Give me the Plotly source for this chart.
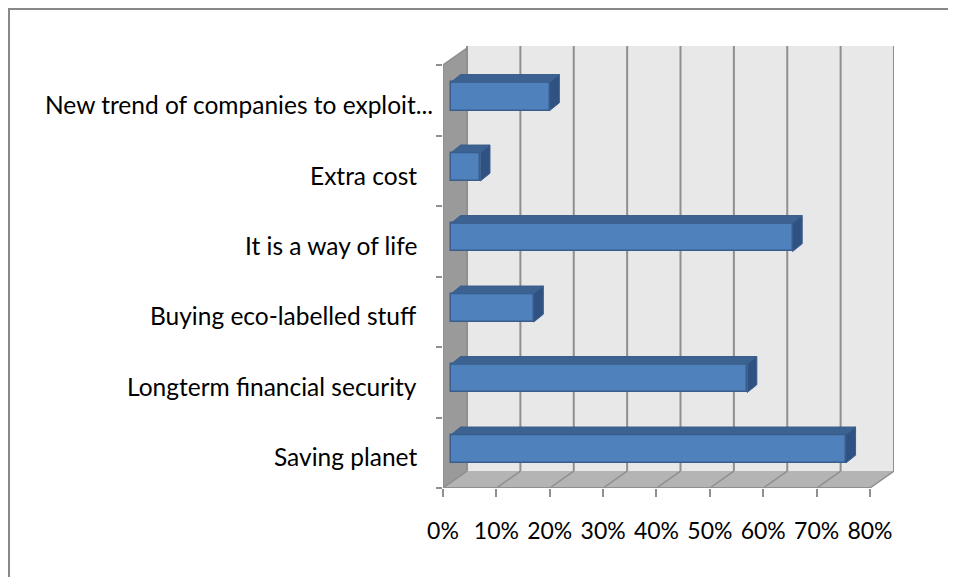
import plotly.graph_objects as go

# ---- data ----
categories = ["Saving planet", "Longterm financial security", "Buying eco-labelled stuff",
              "It is a way of life", "Extra cost", "New trend of companies to exploit..."]
values = [74, 55.5, 15.5, 64, 5.5, 18.5]
tick_vals = [0, 10, 20, 30, 40, 50, 60, 70, 80]
tick_text = ["0%", "10%", "20%", "30%", "40%", "50%", "60%", "70%", "80%"]

# ---- 3D styling constants (in axis units) ----
XMAX = 80
WALL_DX, WALL_DY = 4.5, 0.24      # depth of the chart box
BAR_START = 1.5                   # front face of bars sits slightly behind the front plane
BAR_DX, BAR_DY = 1.8, 0.11        # depth of each bar
BAR_HALF = 0.2
BAR_SHIFT = 0.055
YTOP = 6.27

FRONT = "#4F81BD"
TOP = "#3C6292"
SIDE = "#2F5282"
EDGE = "#3A5E8C"
GRID = "#8F8F8F"

fig = go.Figure()
shapes = []

# back wall
shapes.append(dict(type="rect", xref="x", yref="y", x0=WALL_DX, x1=XMAX + WALL_DX,
                   y0=WALL_DY, y1=YTOP, fillcolor="#E8E8E8", line=dict(width=0), layer="below"))
# floor
shapes.append(dict(type="path", xref="x", yref="y",
                   path=f"M 0 0 L {XMAX} 0 L {XMAX+WALL_DX} {WALL_DY} L {WALL_DX} {WALL_DY} Z",
                   fillcolor="#B4B4B4", line=dict(width=0), layer="below"))
# left wall
shapes.append(dict(type="path", xref="x", yref="y",
                   path=f"M 0 0 L 0 {len(categories)} L {WALL_DX} {len(categories)+WALL_DY} L {WALL_DX} {WALL_DY} Z",
                   fillcolor="#9A9A9A", line=dict(width=0), layer="below"))
# grid lines on back wall + floor diagonals
for v in tick_vals:
    shapes.append(dict(type="line", xref="x", yref="y", x0=v + WALL_DX, x1=v + WALL_DX,
                       y0=WALL_DY, y1=YTOP, line=dict(color=GRID, width=2), layer="below"))
    shapes.append(dict(type="line", xref="x", yref="y", x0=v, x1=v + WALL_DX,
                       y0=0, y1=WALL_DY, line=dict(color=GRID, width=1.5), layer="below"))
# front axes lines
shapes.append(dict(type="line", xref="x", yref="y", x0=0, x1=XMAX, y0=0, y1=0,
                   line=dict(color=GRID, width=2)))
shapes.append(dict(type="line", xref="x", yref="y", x0=0, x1=0, y0=0, y1=len(categories),
                   line=dict(color=GRID, width=2)))
shapes.append(dict(type="line", xref="x", yref="y", x0=0, x1=WALL_DX, y0=len(categories),
                   y1=len(categories) + WALL_DY, line=dict(color=GRID, width=1.5)))
# outer chart frame (figure starts 8px into the page)
W, H = 948, 569
ML, MR, MT, MB = 435, 62, 38, 89
PW, PH = W - ML - MR, H - MT - MB
shapes.append(dict(type="rect", xref="paper", yref="paper",
                   x0=(1 - ML) / PW, x1=3, y0=-3, y1=(H - MB - 1) / PH,
                   line=dict(color="#888888", width=2), fillcolor="rgba(0,0,0,0)"))

# bars: top and side faces
for i, v in enumerate(values):
    yc = i + 0.5 + BAR_SHIFT
    y0, y1 = yc - BAR_HALF, yc + BAR_HALF
    x0, x1 = BAR_START, BAR_START + v
    fig.add_trace(go.Scatter(
        x=[x0, x1, x1 + BAR_DX, x0 + BAR_DX, x0],
        y=[y1, y1, y1 + BAR_DY, y1 + BAR_DY, y1],
        fill="toself", fillcolor=TOP, mode="lines", line=dict(color=EDGE, width=1),
        hoverinfo="skip", showlegend=False))
    fig.add_trace(go.Scatter(
        x=[x1, x1 + BAR_DX, x1 + BAR_DX, x1, x1],
        y=[y0, y0 + BAR_DY, y1 + BAR_DY, y1, y0],
        fill="toself", fillcolor=SIDE, mode="lines", line=dict(color=EDGE, width=1),
        hoverinfo="skip", showlegend=False))

# bars: front faces
fig.add_trace(go.Bar(
    orientation="h",
    x=values,
    base=BAR_START,
    y=[i + 0.5 + BAR_SHIFT for i in range(len(categories))],
    width=2 * BAR_HALF,
    marker=dict(color=FRONT, line=dict(color=EDGE, width=1.5)),
    showlegend=False,
))

yfont = dict(family="Lato, Carlito, Calibri, sans-serif", size=24.5, color="#000000")
xfont = dict(family="Lato, Carlito, Calibri, sans-serif", size=23, color="#000000")

# category labels (the truncated one sits closer to the axis, as in the original)
annotations = []
for i, c in enumerate(categories):
    annotations.append(dict(x=0, y=i + 0.44, xref="x", yref="y", text=c, showarrow=False,
                            xanchor="right", yanchor="middle", font=yfont,
                            xshift=-8 if c.endswith("...") else -24))

fig.update_layout(
    width=W, height=H,
    margin=dict(l=ML, r=MR, t=MT, b=MB),
    paper_bgcolor="white", plot_bgcolor="rgba(0,0,0,0)",
    shapes=shapes,
    annotations=annotations,
    font=yfont,
    xaxis=dict(range=[0, XMAX + WALL_DX], tickmode="array", tickvals=tick_vals, ticktext=tick_text,
               showgrid=False, zeroline=False, showline=False,
               ticks="outside", ticklen=8, tickcolor=GRID, tickwidth=2,
               ticklabelstandoff=14, tickfont=xfont, fixedrange=True),
    yaxis=dict(range=[0, YTOP], tickmode="array",
               tickvals=list(range(len(categories) + 1)),
               ticktext=[""] * (len(categories) + 1),
               showgrid=False, zeroline=False, showline=False,
               ticks="outside", ticklen=6, tickcolor=GRID, tickwidth=2,
               fixedrange=True),
    bargap=0,
)

fig.write_html("out.html")
